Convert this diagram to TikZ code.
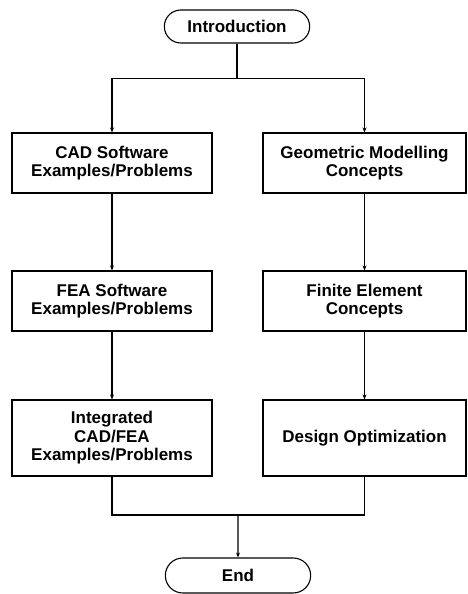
\documentclass[tikz,border=0pt]{standalone}
\usepackage{fontspec}
\setmainfont{Liberation Sans}
\usetikzlibrary{shapes.misc,arrows.meta}

\tikzset{
  stepbox/.style={draw, line width=1.1pt, align=center, font=\fontsize{17}{18.5}\selectfont\bfseries,
    minimum height=60pt, inner sep=2pt},
  endbox/.style={draw, rounded rectangle, line width=1.1pt, font=\fontsize{17}{18.5}\selectfont\bfseries,
    minimum width=152pt, minimum height=33pt},
  link/.style={line width=1.1pt},
  arr/.style={line width=1.1pt, -{Stealth[length=5pt,width=4pt]}}
}

\begin{document}
\begin{tikzpicture}[x=1pt,y=1pt]
    \useasboundingbox (0,0) rectangle (468,594);
    \node[endbox] (intro) at (237,567.5) {Introduction};
    \node[stepbox, minimum width=200pt] (cad) at (112,431) {CAD Software\\Examples/Problems};
    \node[stepbox, minimum width=203pt] (geo) at (364.5,431) {Geometric Modelling\\Concepts};
    \node[stepbox, minimum width=200pt] (fea) at (112,293) {FEA Software\\Examples/Problems};
    \node[stepbox, minimum width=203pt] (fe) at (364.5,293) {Finite Element\\Concepts};
    \node[stepbox, minimum width=200pt, minimum height=76pt] (int) at (112,156) {Integrated\\CAD/FEA\\Examples/Problems};
    \node[stepbox, minimum width=203pt, minimum height=76pt] (opt) at (364.5,156) {Design Optimization};
    \node[endbox, minimum height=35pt] (end) at (238,18.5) {End};
    % split below the introduction
    \draw[link] (intro.south) -- ++(0,-35) coordinate (split);
    \draw[arr] (split) -| (cad.north);
    \draw[arr] (split) -| (geo.north);
    \draw[arr] (cad) -- (fea);
    \draw[arr] (geo) -- (fe);
    \draw[arr] (fea) -- (int);
    \draw[arr] (fe) -- (opt);
    % merge above the end
    \coordinate (merge) at (238,79);
    \draw[link] (int.south) |- (merge);
    \draw[link] (opt.south) |- (merge);
    \draw[arr] (merge) -- (end);
  \end{tikzpicture}
\end{document}
